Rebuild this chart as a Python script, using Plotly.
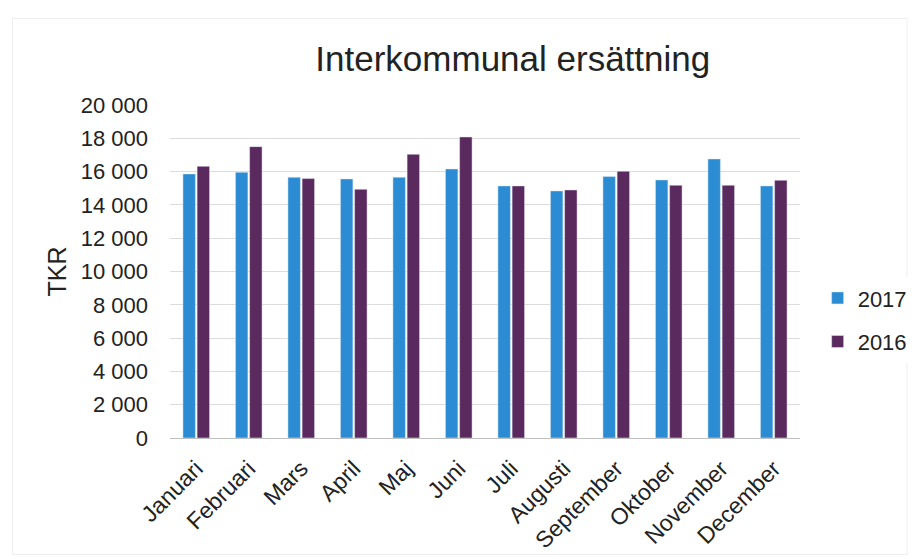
import plotly.graph_objects as go

months = ["Januari", "Februari", "Mars", "April", "Maj", "Juni", "Juli",
          "Augusti", "September", "Oktober", "November", "December"]
v2017 = [15860, 15960, 15660, 15560, 15660, 16160, 15140, 14840, 15700, 15500, 16760, 15140]
v2016 = [16320, 17500, 15580, 14940, 17040, 18080, 15140, 14900, 16020, 15180, 15180, 15480]
yticks = list(range(0, 20001, 2000))
ytext = [f"{v:,}".replace(",", " ") for v in yticks]

fig = go.Figure()
fig.add_trace(go.Bar(x=months, y=v2017, name="2017", marker_color="#2b8cd3",
                     legendgroup="a"))
fig.add_trace(go.Bar(x=months, y=v2016, name="2016", marker_color="#5a2a5e",
                     legendgroup="b"))

fig.update_layout(
    width=919, height=559,
    margin=dict(l=170, r=119, t=105, b=121, autoexpand=False),
    paper_bgcolor="white", plot_bgcolor="white",
    font=dict(family="Liberation Sans, Arial, sans-serif", color="#222222"),
    title=dict(text="Interkommunal ersättning", x=0.558, xanchor="center",
               y=0.895, yanchor="middle", font=dict(size=35, color="#222222")),
    barmode="group", bargap=0.46, bargroupgap=0.12,
    showlegend=True,
    legend=dict(x=1.028, xanchor="left", y=0.354, yanchor="middle",
                font=dict(size=22), traceorder="grouped", tracegroupgap=12,
                itemwidth=30),
    shapes=[dict(type="rect", xref="paper", yref="paper", x0=-0.25, x1=1.17,
                 y0=-0.35, y1=1.26, line=dict(color="#eeeeee", width=1))],
)
fig.update_yaxes(range=[0, 20000], tickvals=yticks, ticktext=ytext,
                 showgrid=True, gridcolor="#dcdcdc", gridwidth=1,
                 zeroline=False, tickfont=dict(size=22), ticks="",
                 ticklabelstandoff=21,
                 title=dict(text="TKR", font=dict(size=25), standoff=6))
fig.update_xaxes(tickangle=-45, tickfont=dict(size=23), showline=True,
                 linecolor="#bfbfbf", linewidth=1, ticks="",
                 ticklabelstandoff=7)

fig.write_html("out.html")
